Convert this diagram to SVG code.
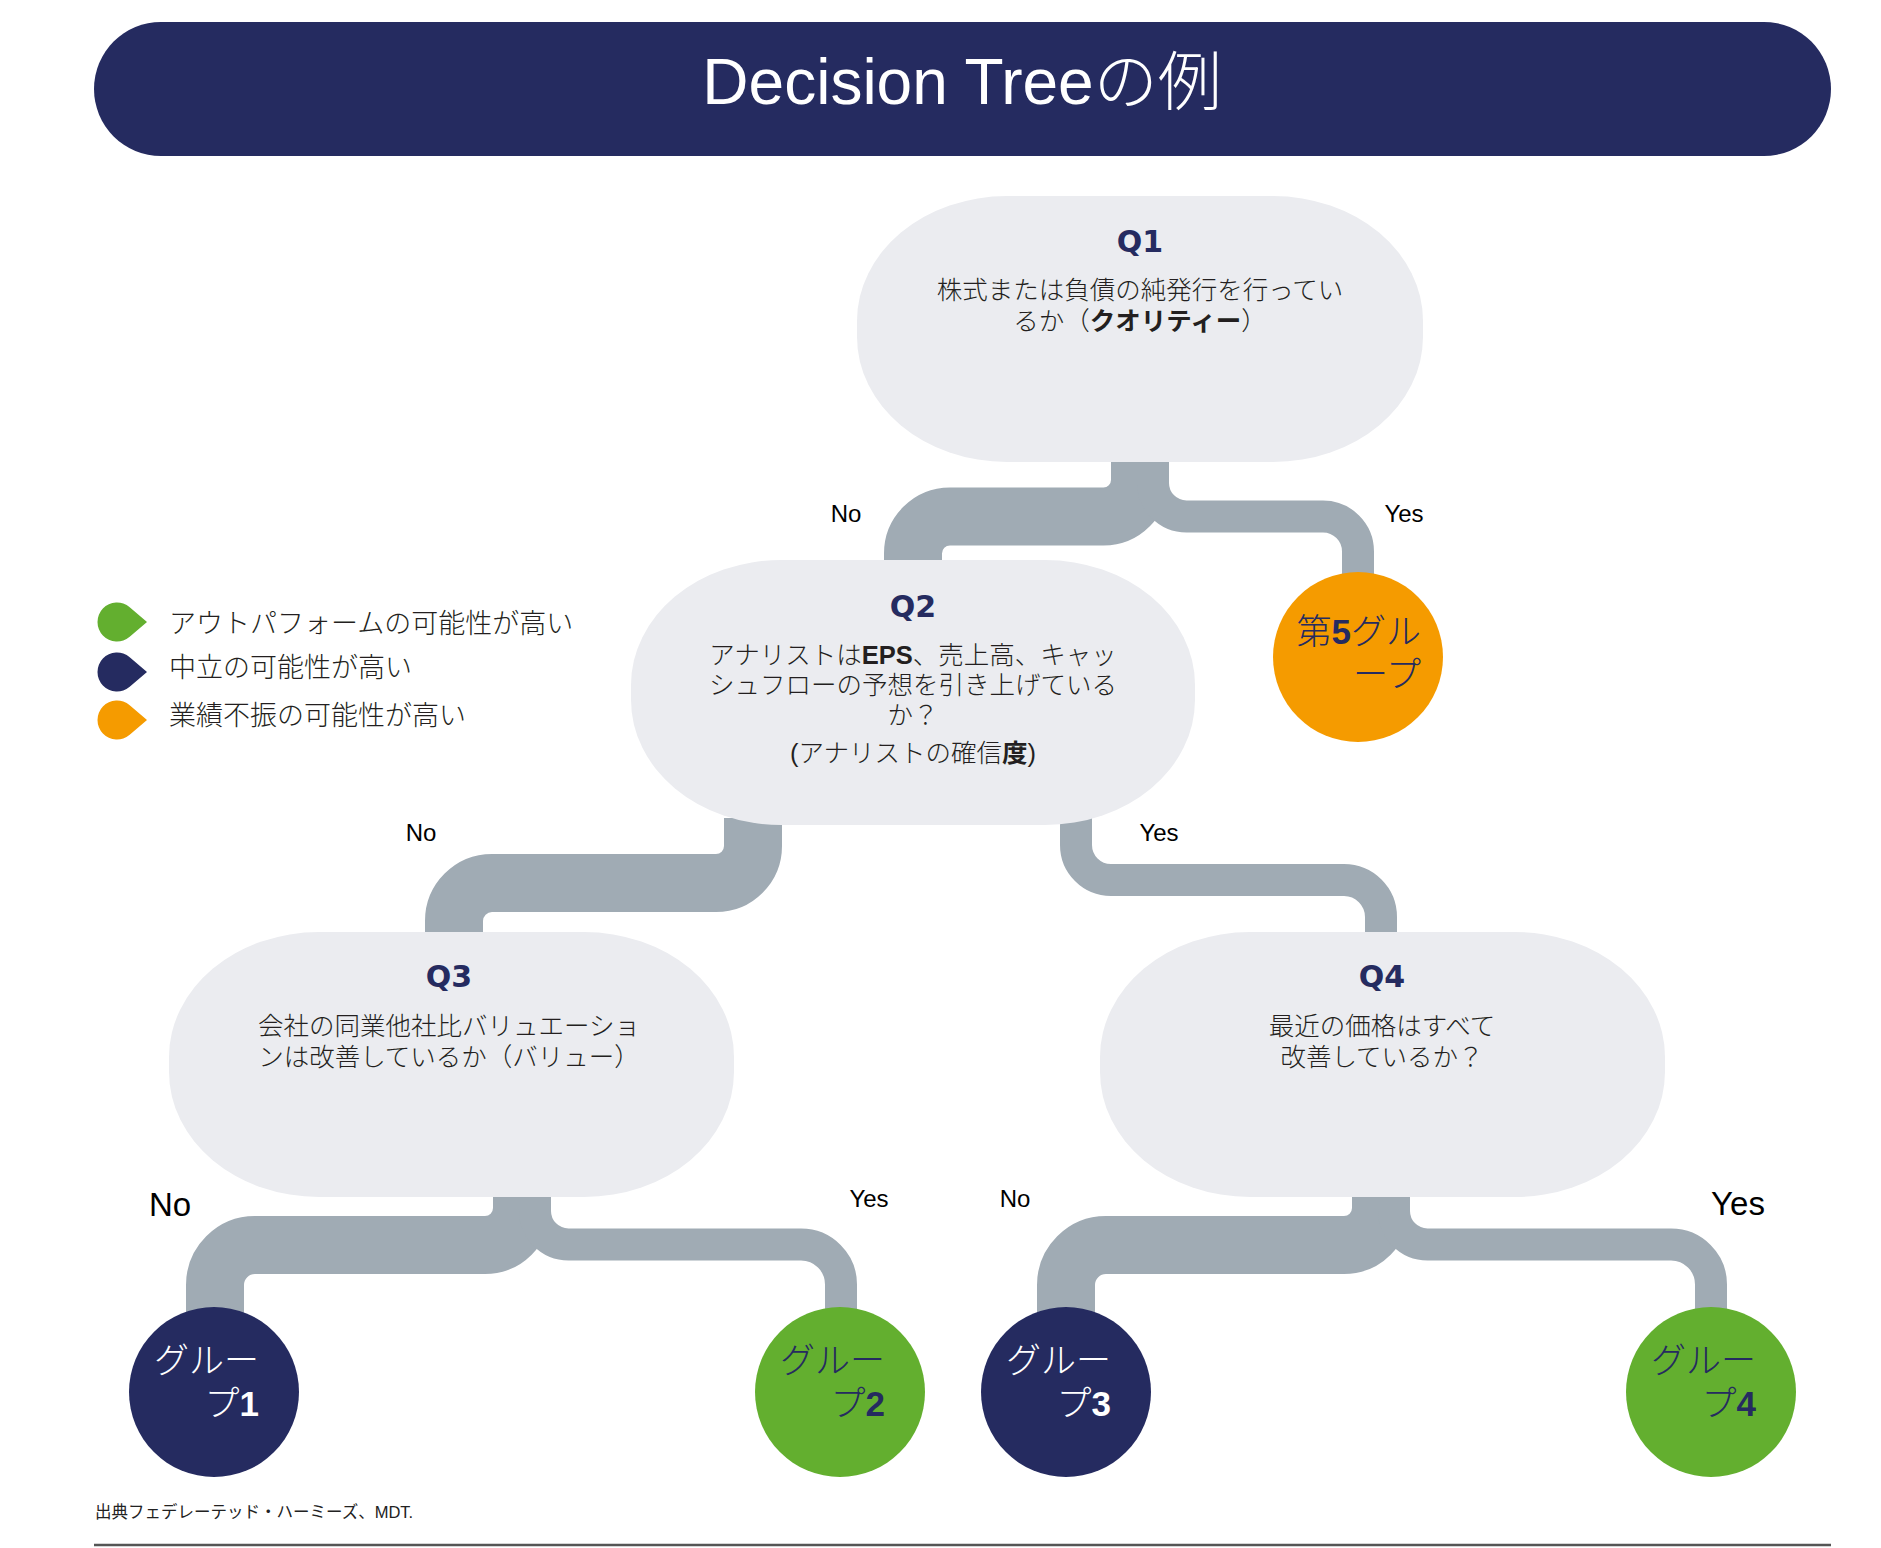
<svg xmlns="http://www.w3.org/2000/svg" width="1881" height="1548" viewBox="0 0 1881 1548">
<defs>
<style>
.box{fill:#EBECF0}
.q{font-family:"DejaVu Sans",sans-serif;font-weight:bold;font-size:30px;fill:#252B60;text-anchor:middle}
.t{font-family:"Liberation Sans","Noto Sans CJK JP",sans-serif;font-weight:300;font-size:25.5px;fill:#231F20;text-anchor:middle}
.b{font-weight:bold}
.yn{font-family:"Liberation Sans",sans-serif;font-size:24px;fill:#000;text-anchor:middle}
.big{font-size:33px}
.c{fill:none;stroke:#A0ABB4}
.thick{stroke-width:58}
.thin{stroke-width:32}
.g{font-family:"Liberation Sans","Noto Sans CJK JP",sans-serif;font-weight:300;font-size:35px;text-anchor:end}
.lg{font-family:"Noto Sans CJK JP",sans-serif;font-weight:300;font-size:27px;fill:#231F20}
.navy{fill:#252B60}
.green{fill:#63AF2F}
.orange{fill:#F59B00}
.white{fill:#FFFFFF}
</style>
</defs>
<rect width="1881" height="1548" fill="#FFFFFF"/>

<g id="header">
<rect x="94" y="22" width="1737" height="134" rx="67" ry="67" class="navy"/>
<text x="962" y="104" text-anchor="middle" font-family="Liberation Sans, Noto Sans CJK JP, sans-serif" font-size="64" fill="#FFFFFF">Decision Tree<tspan font-family="Noto Sans CJK JP, sans-serif" font-weight="300">の例</tspan></text>
</g>

<g id="connectors">
<path class="c thick" d="M 1140 455 V 480 A 36.5 36.5 0 0 1 1103.5 516.5 H 950 A 37 37 0 0 0 913 553.5 V 566"/>
<path class="c thin" d="M 1153 455 V 483 A 33.5 33.5 0 0 0 1186.5 516.5 H 1323 A 35 35 0 0 1 1358 551.5 V 585"/>
<path class="c thick" d="M 753 818 V 846 A 37 37 0 0 1 716 883 H 492 A 38 38 0 0 0 454 921 V 940"/>
<path class="c thin" d="M 1076 818 V 845 A 35 35 0 0 0 1111 880 H 1344 A 37 37 0 0 1 1381 917 V 940"/>
<path class="c thick" d="M 522 1190 V 1208 A 37 37 0 0 1 485 1245 H 255 A 40 40 0 0 0 215 1285 V 1320"/>
<path class="c thin" d="M 535 1190 V 1211 A 33.5 33.5 0 0 0 568.5 1244.5 H 801 A 40 40 0 0 1 841 1284.5 V 1320"/>
<path class="c thick" d="M 1381 1190 V 1208 A 37 37 0 0 1 1344 1245 H 1106 A 40 40 0 0 0 1066 1285 V 1320"/>
<path class="c thin" d="M 1394 1190 V 1211 A 33.5 33.5 0 0 0 1427.5 1244.5 H 1671 A 40 40 0 0 1 1711 1284.5 V 1320"/>
<text class="yn" x="846" y="522">No</text>
<text class="yn" x="1404" y="522">Yes</text>
<text class="yn" x="421" y="841">No</text>
<text class="yn" x="1159" y="841">Yes</text>
<text class="yn big" x="170" y="1216">No</text>
<text class="yn" x="869" y="1207">Yes</text>
<text class="yn" x="1015" y="1207">No</text>
<text class="yn big" x="1738" y="1215">Yes</text>
</g>

<g id="q1">
<rect class="box" x="857" y="196" width="566" height="266" rx="150" ry="125"/>
<text class="q" x="1140" y="252">Q1</text>
<text class="t" x="1140" y="299">株式または負債の純発行を行ってい</text>
<text class="t" x="1140" y="330">るか（<tspan class="b">クオリティー</tspan>）</text>
</g>

<g id="q2">
<rect class="box" x="631" y="560" width="564" height="265" rx="150" ry="125"/>
<text class="q" x="913" y="617">Q2</text>
<text class="t" x="913" y="664">アナリストは<tspan class="b">EPS</tspan>、売上高、キャッ</text>
<text class="t" x="913" y="694">シュフローの予想を引き上げている</text>
<text class="t" x="913" y="724">か？</text>
<text class="t" x="913" y="762">(アナリストの確信<tspan class="b">度</tspan>)</text>
</g>

<g id="q3">
<rect class="box" x="169" y="932" width="565" height="265" rx="150" ry="125"/>
<text class="q" x="449" y="987">Q3</text>
<text class="t" x="449" y="1035">会社の同業他社比バリュエーショ</text>
<text class="t" x="449" y="1066">ンは改善しているか（バリュー）</text>
</g>

<g id="q4">
<rect class="box" x="1100" y="932" width="565" height="265" rx="150" ry="125"/>
<text class="q" x="1382" y="987">Q4</text>
<text class="t" x="1382" y="1035">最近の価格はすべて</text>
<text class="t" x="1382" y="1066">改善しているか？</text>
</g>

<g id="group5">
<circle cx="1358" cy="657" r="85" class="orange"/>
<text class="g navy" x="1421" y="644">第<tspan class="b">5</tspan>グル</text>
<text class="g navy" x="1421" y="687">ープ</text>
</g>

<g id="group1">
<circle cx="214" cy="1392" r="85" class="navy"/>
<text class="g white" x="259" y="1373">グルー</text>
<text class="g white" x="259" y="1416">プ<tspan class="b">1</tspan></text>
</g>

<g id="group2">
<circle cx="840" cy="1392" r="85" class="green"/>
<text class="g navy" x="885" y="1373">グルー</text>
<text class="g navy" x="885" y="1416">プ<tspan class="b">2</tspan></text>
</g>

<g id="group3">
<circle cx="1066" cy="1392" r="85" class="navy"/>
<text class="g white" x="1111" y="1373">グルー</text>
<text class="g white" x="1111" y="1416">プ<tspan class="b">3</tspan></text>
</g>

<g id="group4">
<circle cx="1711" cy="1392" r="85" class="green"/>
<text class="g navy" x="1756" y="1373">グルー</text>
<text class="g navy" x="1756" y="1416">プ<tspan class="b">4</tspan></text>
</g>

<g id="legend">
<path class="green" d="M 147 622 L 129.7 607.2 A 19.5 19.5 0 1 0 129.7 636.8 Z"/>
<path class="navy" d="M 147 672 L 129.7 657.2 A 19.5 19.5 0 1 0 129.7 686.8 Z"/>
<path class="orange" d="M 147 720 L 129.7 705.2 A 19.5 19.5 0 1 0 129.7 734.8 Z"/>
<text class="lg" x="169" y="633">アウトパフォームの可能性が高い</text>
<text class="lg" x="169" y="677">中立の可能性が高い</text>
<text class="lg" x="169" y="725">業績不振の可能性が高い</text>
</g>

<g id="footer">
<text x="95" y="1518" font-family="Liberation Sans, Noto Sans CJK JP, sans-serif" font-size="16.5" fill="#222222">出典フェデレーテッド・ハーミーズ、MDT.</text>
<line x1="94" y1="1545" x2="1831" y2="1545" stroke="#555555" stroke-width="2.5"/>
</g>
</svg>
